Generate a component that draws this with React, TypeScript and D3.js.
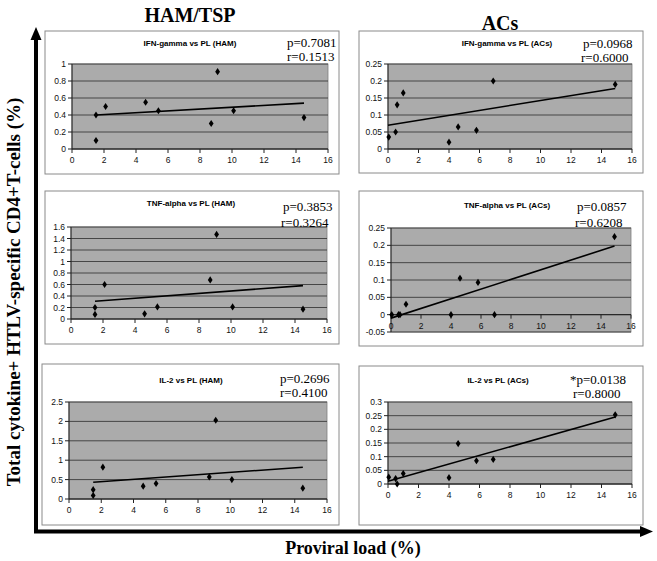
import React from "react";
import * as d3 from "d3";

// Proviral load (%) of each subject
const hamPL = [1.5, 1.5, 2.1, 4.6, 5.4, 8.7, 9.1, 10.1, 14.5];
const acsPL = [0.05, 0.5, 0.6, 1.0, 4.0, 4.6, 5.8, 6.9, 14.9];

// Cytokine+ HTLV-specific CD4+ T cells (%)
const ifnHAM = [0.4, 0.1, 0.5, 0.55, 0.45, 0.3, 0.91, 0.45, 0.37];
const tnfHAM = [0.2, 0.08, 0.6, 0.09, 0.21, 0.68, 1.47, 0.21, 0.17];
const il2HAM = [0.24, 0.09, 0.82, 0.33, 0.4, 0.57, 2.03, 0.5, 0.28];
const ifnACs = [0.035, 0.05, 0.13, 0.165, 0.02, 0.065, 0.055, 0.2, 0.19];
const tnfACs = [0, 0, 0, 0.03, 0, 0.105, 0.093, 0, 0.225];
const il2ACs = [0.025, 0.02, 0, 0.038, 0.023, 0.148, 0.085, 0.09, 0.253];

// Trend line endpoints [x0, y0, x1, y1]
const ifnHAMTrend = [1.5, 0.4, 14.5, 0.54];
const tnfHAMTrend = [1.5, 0.31, 14.5, 0.58];
const il2HAMTrend = [1.5, 0.43, 14.5, 0.82];
const ifnACsTrend = [0, 0.07, 14.9, 0.178];
const tnfACsTrend = [0, -0.01, 14.9, 0.198];
const il2ACsTrend = [0, 0.01, 14.9, 0.245];

// Tick labels
const xTicks = [0, 2, 4, 6, 8, 10, 12, 14, 16];
const ifnHAMTicks = ["0", "0.2", "0.4", "0.6", "0.8", "1"];
const tnfHAMTicks = ["0", "0.2", "0.4", "0.6", "0.8", "1", "1.2", "1.4", "1.6"];
const il2HAMTicks = ["0", "0.5", "1", "1.5", "2", "2.5"];
const ifnACsTicks = ["0", "0.05", "0.1", "0.15", "0.2", "0.25"];
const tnfACsTicks = ["-0.05", "0", "0.05", "0.1", "0.15", "0.2", "0.25"];
const il2ACsTicks = ["0", "0.05", "0.1", "0.15", "0.2", "0.25", "0.3"];

// Titles and statistics
const titles = [
  "IFN-gamma vs PL (HAM)", "IFN-gamma vs PL (ACs)",
  "TNF-alpha vs PL (HAM)", "TNF-alpha vs PL (ACs)",
  "IL-2 vs PL (HAM)", "IL-2 vs PL (ACs)",
];
const pTexts = ["p=0.7081", "p=0.0968", "p=0.3853", "p=0.0857", "p=0.2696", "*p=0.0138"];
const rTexts = ["r=0.1513", "r=0.6000", "r=0.3264", "r=0.6208", "r=0.4100", "r=0.8000"];

const series = [
  { x: hamPL, y: ifnHAM, trend: ifnHAMTrend, ticks: ifnHAMTicks },
  { x: acsPL, y: ifnACs, trend: ifnACsTrend, ticks: ifnACsTicks },
  { x: hamPL, y: tnfHAM, trend: tnfHAMTrend, ticks: tnfHAMTicks },
  { x: acsPL, y: tnfACs, trend: tnfACsTrend, ticks: tnfACsTicks },
  { x: hamPL, y: il2HAM, trend: il2HAMTrend, ticks: il2HAMTicks },
  { x: acsPL, y: il2ACs, trend: il2ACsTrend, ticks: il2ACsTicks },
];

// Layout (pixels)
const layouts = [
  { box: [45, 31, 339, 174], plot: [72, 328, 64, 149], title: [190, 46], p: [287, 47], r: [287, 61] },
  { box: [359, 31, 643, 173], plot: [388, 632, 64, 149], title: [507, 46], p: [583, 48], r: [581, 62] },
  { box: [45, 191, 339, 344], plot: [71, 327, 227, 319], title: [191, 206], p: [283, 211], r: [281, 227] },
  { box: [359, 191, 643, 346], plot: [391, 631, 228, 332], title: [507, 208], p: [577, 211], r: [575, 227] },
  { box: [42, 364, 339, 525], plot: [69, 327, 402, 499], title: [191, 383], p: [280, 383], r: [280, 397] },
  { box: [359, 366, 643, 525], plot: [388, 632, 402, 484], title: [498, 383], p: [570, 384], r: [573, 398] },
];

const sans = "'Liberation Sans', Arial, sans-serif";
const serif = "'Liberation Serif', 'Times New Roman', serif";

function Panel({ i }: { i: number }) {
  const s = series[i];
  const L = layouts[i];
  const [bx0, by0, bx1, by1] = L.box;
  const [pl, pr, pt, pb] = L.plot;
  const tickVals = s.ticks.map(Number);
  const x = d3.scaleLinear().domain([0, 16]).range([pl, pr]);
  const y = d3.scaleLinear().domain([d3.min(tickVals)!, d3.max(tickVals)!]).range([pb, pt]);
  const y0 = y(0);
  const diamond = d3.symbol(d3.symbolDiamond, 15)()!;
  const line = d3.line<number[]>().x((d) => x(d[0])).y((d) => y(d[1]));
  const tr = s.trend;
  return (
    <g>
      <rect x={bx0} y={by0} width={bx1 - bx0} height={by1 - by0} fill="#fff" stroke="#8a8a8a" strokeWidth={1} />
      <rect x={pl} y={pt} width={pr - pl} height={pb - pt} fill="#ababab" stroke="#808080" strokeWidth={0.8} />
      {tickVals.map((v, k) => (
        <line key={"g" + k} x1={pl} x2={pr} y1={y(v)} y2={y(v)} stroke="#3a3a3a" strokeWidth={0.9} />
      ))}
      {/* y axis */}
      <line x1={pl} x2={pl} y1={pt} y2={pb} stroke="#222" strokeWidth={1} />
      {tickVals.map((v, k) => (
        <g key={"yt" + k}>
          <line x1={pl - 4} x2={pl} y1={y(v)} y2={y(v)} stroke="#222" strokeWidth={1} />
          <text x={pl - 6} y={y(v) + 3} textAnchor="end" fontFamily={sans} fontSize={8.5} fill="#111">
            {s.ticks[k]}
          </text>
        </g>
      ))}
      {/* x axis */}
      <line x1={pl} x2={pr} y1={y0} y2={y0} stroke="#222" strokeWidth={1} />
      {xTicks.map((v, k) => (
        <g key={"xt" + k}>
          <line x1={x(v)} x2={x(v)} y1={y0} y2={y0 + 4} stroke="#222" strokeWidth={1} />
          <text x={x(v)} y={y0 + 14} textAnchor="middle" fontFamily={sans} fontSize={8.5} fill="#111">
            {v}
          </text>
        </g>
      ))}
      <path d={line([[tr[0], tr[1]], [tr[2], tr[3]]])!} stroke="#000" strokeWidth={1.6} fill="none" />
      {s.x.map((xv, k) => (
        <path key={"m" + k} d={diamond} transform={`translate(${x(xv)},${y(s.y[k])}) scale(1.15,1)`} fill="#000" />
      ))}
      <text x={L.title[0]} y={L.title[1]} textAnchor="middle" fontFamily={sans} fontWeight="bold" fontSize={8} fill="#000">
        {titles[i]}
      </text>
      <text x={L.p[0]} y={L.p[1]} fontFamily={serif} fontSize={13} fill="#000">{pTexts[i]}</text>
      <text x={L.r[0]} y={L.r[1]} fontFamily={serif} fontSize={13} fill="#000">{rTexts[i]}</text>
    </g>
  );
}

export default function App() {
  return (
    <svg width={657} height={561} style={{ position: "absolute", left: 0, top: 0, background: "#fff" }}>
      <rect width={657} height={561} fill="#fff" />
      <text x={190} y={22} textAnchor="middle" fontFamily={serif} fontWeight="bold" fontSize={20}>HAM/TSP</text>
      <text x={500} y={30} textAnchor="middle" fontFamily={serif} fontWeight="bold" fontSize={20}>ACs</text>
      {/* axis arrows */}
      <line x1={36} x2={36} y1={34} y2={533} stroke="#000" strokeWidth={4} />
      <line x1={34} x2={644} y1={531.5} y2={531.5} stroke="#000" strokeWidth={4} />
      <path d="M36,27 L41.5,40 L30.5,40 Z" fill="#000" />
      <path d="M653,531.5 L640,526 L640,537 Z" fill="#000" />
      <text
        transform="translate(20,292) rotate(-90)"
        textAnchor="middle"
        fontFamily={serif}
        fontWeight="bold"
        fontSize={19}
      >
        Total cytokine+ HTLV-specific CD4+T-cells (%)
      </text>
      <text x={353} y={554} textAnchor="middle" fontFamily={serif} fontWeight="bold" fontSize={18}>
        Proviral load (%)
      </text>
      {layouts.map((_, i) => (
        <Panel key={i} i={i} />
      ))}
    </svg>
  );
}
